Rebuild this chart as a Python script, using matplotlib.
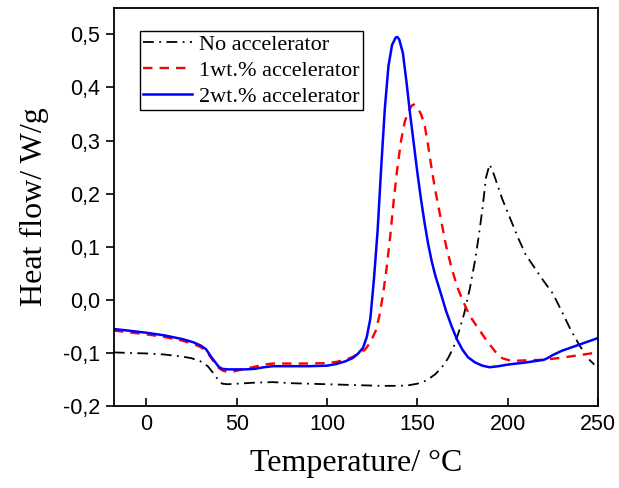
import matplotlib.pyplot as plt
from matplotlib.ticker import FuncFormatter

# 无促进剂
t_none = [-18, -10, 0, 10, 20, 25, 30, 34, 37, 40, 42, 45, 50, 60, 70, 80, 90, 100, 110, 120,
          130, 140, 145, 150, 155, 160, 164, 167, 170, 173, 176, 179, 182, 184, 186, 188, 190,
          192, 194, 197, 200, 203, 206, 210, 215, 220, 225, 230, 235, 240, 245, 248]
hf_none = [-0.099, -0.100, -0.101, -0.103, -0.107, -0.110, -0.116, -0.125, -0.138, -0.152, -0.158,
           -0.159, -0.158, -0.156, -0.155, -0.157, -0.158, -0.159, -0.160, -0.161, -0.162, -0.162,
           -0.161, -0.158, -0.152, -0.140, -0.125, -0.110, -0.090, -0.060, -0.025, 0.020, 0.075,
           0.120, 0.170, 0.230, 0.255, 0.240, 0.220, 0.190, 0.165, 0.140, 0.115, 0.085, 0.060,
           0.035, 0.012, -0.022, -0.057, -0.087, -0.112, -0.122]

# 1wt.%
t_1 = [-18, -10, 0, 10, 20, 26, 30, 33, 36, 38, 40, 42, 45, 48, 52, 56, 60, 65, 70, 80, 90, 100,
       105, 110, 114, 118, 121, 124, 127, 129, 131, 133, 135, 137, 139, 141, 143, 145, 147, 148,
       150, 152, 154, 156, 158, 160, 162, 164, 166, 169, 172, 175, 179, 183, 188, 193, 197, 202,
       210, 220, 230, 240, 250]
hf_1 = [-0.058, -0.061, -0.065, -0.070, -0.077, -0.083, -0.089, -0.096, -0.110, -0.120, -0.128,
        -0.133, -0.136, -0.135, -0.132, -0.129, -0.126, -0.122, -0.120, -0.120, -0.120, -0.119,
        -0.117, -0.113, -0.108, -0.100, -0.094, -0.080, -0.058, -0.030, 0.010, 0.060, 0.120,
        0.190, 0.250, 0.300, 0.335, 0.355, 0.366, 0.368, 0.362, 0.350, 0.330, 0.290, 0.245,
        0.205, 0.170, 0.135, 0.100, 0.060, 0.025, 0.000, -0.030, -0.050, -0.075, -0.097, -0.110,
        -0.115, -0.114, -0.113, -0.109, -0.104, -0.099]

# 2wt.%
t_2 = [-18, -10, 0, 10, 20, 26, 30, 33, 36, 38, 40, 42, 45, 50, 55, 60, 65, 70, 80, 90, 100,
       105, 110, 114, 117, 120, 122, 124, 126, 128, 130, 132, 134, 136, 138, 139, 140, 142, 144,
       146, 148, 150, 152, 154, 156, 158, 160, 163, 166, 169, 172, 175, 178, 182, 186, 190, 195,
       200, 210, 220, 222, 225, 230, 240, 250]
hf_2 = [-0.055, -0.058, -0.062, -0.067, -0.074, -0.080, -0.086, -0.093, -0.108, -0.117, -0.126,
        -0.130, -0.131, -0.131, -0.131, -0.130, -0.127, -0.125, -0.125, -0.125, -0.124, -0.121,
        -0.116, -0.110, -0.102, -0.090, -0.070, -0.035, 0.040, 0.130, 0.250, 0.360, 0.440,
        0.480, 0.494, 0.495, 0.490, 0.465, 0.410, 0.350, 0.295, 0.240, 0.190, 0.145, 0.105,
        0.072, 0.045, 0.012, -0.022, -0.050, -0.075, -0.094, -0.108, -0.118, -0.124, -0.127,
        -0.125, -0.122, -0.118, -0.113, -0.110, -0.104, -0.096, -0.084, -0.072]

labels = ['No accelerator', '1wt.% accelerator', '2wt.% accelerator']
xticks = [0, 50, 100, 150, 200, 250]
yticks = [-0.2, -0.1, 0.0, 0.1, 0.2, 0.3, 0.4, 0.5]

fig = plt.figure(figsize=(6.19, 4.88), dpi=100)
ax = fig.add_axes([0.184, 0.168, 0.782, 0.816])

ax.plot(t_none, hf_none, color='black', lw=1.3, ls=(0, (6, 3, 1, 3)), label=labels[0])
ax.plot(t_1, hf_1, color='red', lw=1.7, ls=(0, (4, 3)), label=labels[1])
ax.plot(t_2, hf_2, color='blue', lw=1.8, label=labels[2])

ax.set_xlim(-18, 250)
ax.set_ylim(-0.2, 0.55)
ax.set_xticks(xticks)
ax.set_yticks(yticks)
ax.yaxis.set_major_formatter(FuncFormatter(lambda v, p: ('%.1f' % v).replace('.', ',')))
ax.tick_params(axis='x', direction='in', length=6, width=1.2, labelsize=15.5, pad=6)
ax.tick_params(axis='y', direction='out', length=6, width=1.2, labelsize=15.5, pad=4)
for lb in ax.get_xticklabels() + ax.get_yticklabels():
    lb.set_fontfamily('Liberation Sans')
for s in ax.spines.values():
    s.set_linewidth(1.3)

ax.set_xlabel('Temperature/ °C', fontfamily='Liberation Serif', fontsize=23, labelpad=10)
ax.set_ylabel('Heat flow/ W/g', fontfamily='Liberation Serif', fontsize=23, labelpad=10)

leg = ax.legend(loc='upper left', bbox_to_anchor=(0.054, 0.942), borderaxespad=0,
                prop={'family': 'Liberation Serif', 'size': 16}, fancybox=False,
                edgecolor='black', framealpha=1, handlelength=2.2, handletextpad=0.3,
                labelspacing=0.25, borderpad=0.15)
leg.get_frame().set_linewidth(1.0)

fig.savefig('out.png', dpi=100)
